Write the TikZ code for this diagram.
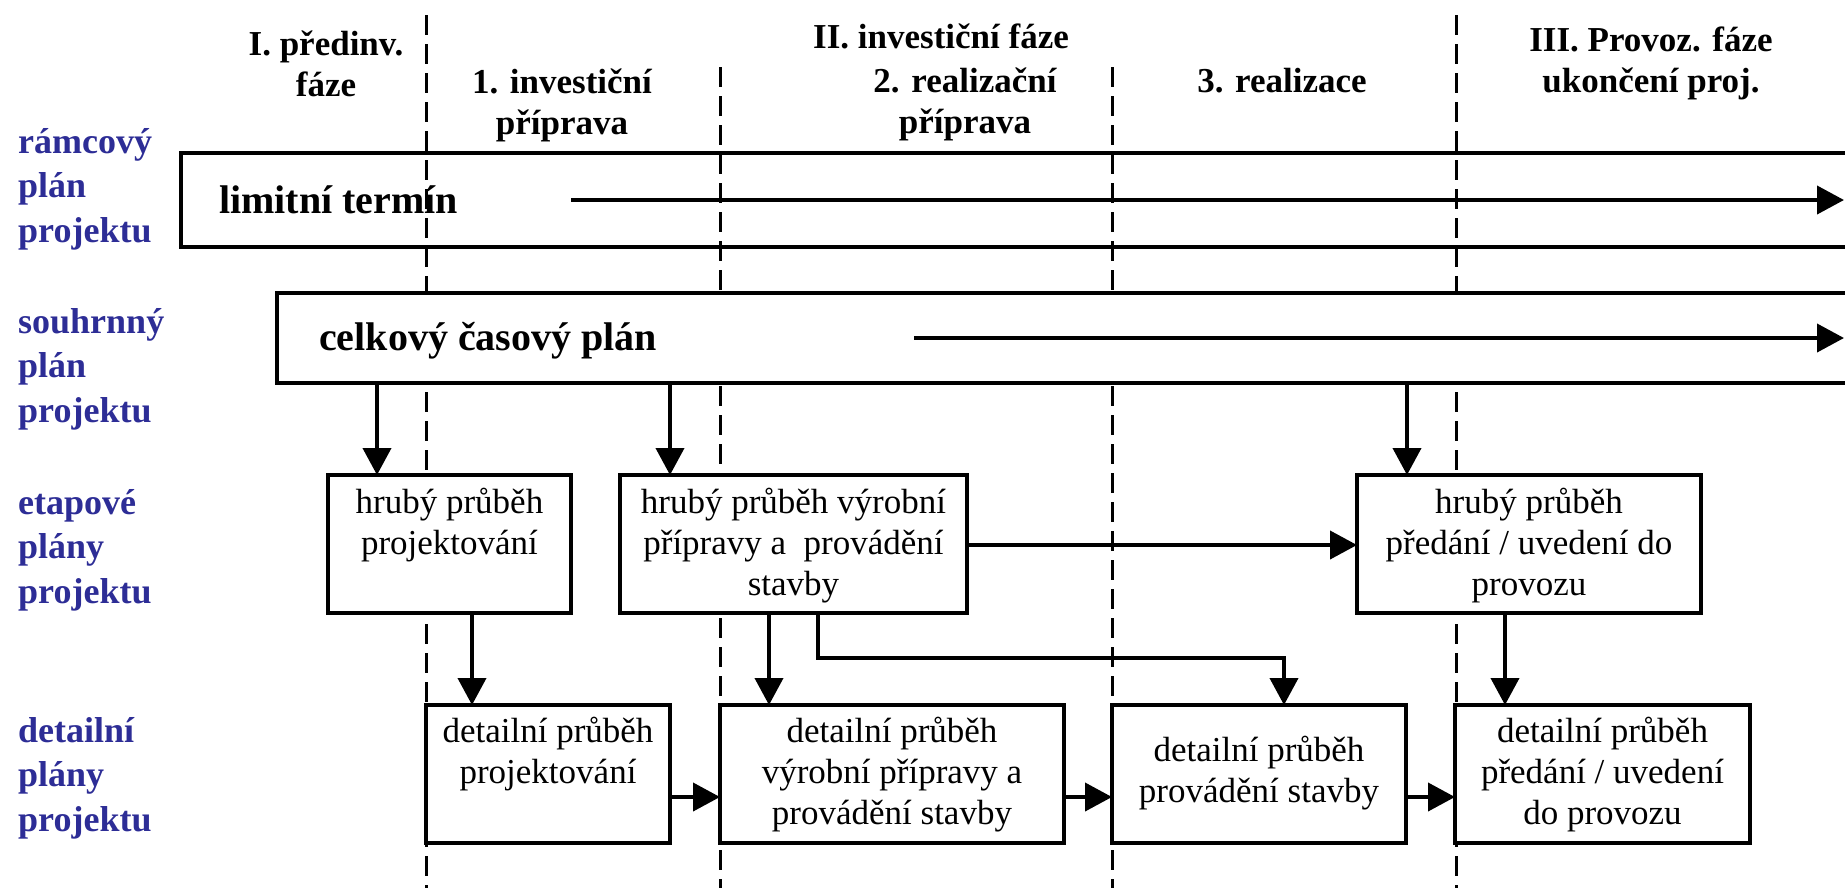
\documentclass[tikz,border=0pt]{standalone}
\usepackage{fontspec}
\setmainfont{Liberation Serif}
\usetikzlibrary{arrows.meta}
\definecolor{lblblue}{RGB}{45,45,150}
\newcommand\bxt[4]{\parbox[t][#2][t]{#1}{\centering\rule{0pt}{#3}#4}}
\newcommand\lbt[1]{\parbox[t]{220pt}{\raggedright #1}}
\newcommand\hdt[1]{\parbox[t]{300pt}{\centering #1}}
\begin{document}
\begin{tikzpicture}[x=1pt,y=-1pt,
  frame/.style={draw, line width=4pt, inner sep=0pt, outer sep=0pt, anchor=north west},
  wbox/.style={frame, fill=white, font=\fontsize{35}{41}\selectfont},
  arr/.style={line width=4pt, -{Triangle[length=27pt,width=28pt]}},
  phase/.style={draw, line width=3pt, dash pattern=on 20pt off 9pt},
  hdr/.style={anchor=base, inner sep=0pt, font=\bfseries\fontsize{35}{41}\selectfont},
  lbl/.style={anchor=base west, inner sep=0pt, text=lblblue, font=\bfseries\fontsize{36}{44.5}\selectfont},
  big/.style={anchor=base west, inner sep=0pt, font=\bfseries\fontsize{40}{48}\selectfont},
]
\useasboundingbox[fill=white] (0,0) rectangle (1845,887);

% phase separators
\draw[phase] (426,15) -- (426,892);
\draw[phase] (720,67) -- (720,892);
\draw[phase] (1112,67) -- (1112,892);
\draw[phase] (1456,15) -- (1456,892);

% headers
\node[hdr] (h1) at (326,55) {\hdt{I. předinv.\\fáze}};
\node[hdr] (h2) at (562,93) {\hdt{1. investiční\\příprava}};
\node[hdr] (h3) at (941,48) {\hdt{II. investiční fáze}};
\node[hdr] (h4) at (965,92) {\hdt{2. realizační\\příprava}};
\node[hdr] (h5) at (1282,92) {\hdt{3. realizace}};
\node[hdr] (h6) at (1651,51) {\hdt{III. Provoz. fáze\\ukončení proj.}};

% row labels
\node[lbl] (r1) at (18,153) {\lbt{rámcový\\plán\\projektu}};
\node[lbl] (r2) at (18,333) {\lbt{souhrnný\\plán\\projektu}};
\node[lbl] (r3) at (18,514) {\lbt{etapové\\plány\\projektu}};
\node[lbl] (r4) at (18,742) {\lbt{detailní\\plány\\projektu}};

% frame plan
\node[frame, minimum width=1666pt, minimum height=94pt] (limit) at (181,153) {};
\node[big] (lt) at (219,213) {limitní termín};
\coordinate (l0) at (571,200);
\coordinate (l1) at (1844,200);
\draw[arr] (l0) -- (l1);

% summary plan
\node[frame, fill=white, minimum width=1570pt, minimum height=90pt] (celk) at (277,293) {};
\node[big] (ct) at (319,350) {celkový časový plán};
\coordinate (c0) at (914,338);
\coordinate (c1) at (1844,338);
\draw[arr] (c0) -- (c1);

% stage plans
\node[wbox] (A) at (328,475) {\bxt{243pt}{138pt}{38pt}{hrubý průběh\\projektování}};
\node[wbox] (B) at (620,475) {\bxt{347pt}{138pt}{38pt}{hrubý průběh výrobní\\přípravy a\ \ provádění\\stavby}};
\node[wbox] (C) at (1357,475) {\bxt{344pt}{138pt}{38pt}{hrubý průběh\\předání / uvedení do\\provozu}};

% detail plans
\node[wbox] (D1) at (426,705) {\bxt{244pt}{138pt}{37pt}{detailní průběh\\projektování}};
\node[wbox] (D2) at (720,705) {\bxt{344pt}{138pt}{37pt}{detailní průběh\\výrobní přípravy a\\provádění stavby}};
\node[wbox] (D3) at (1112,705) {\bxt{294pt}{138pt}{56pt}{detailní průběh\\provádění stavby}};
\node[wbox] (D4) at (1455,705) {\bxt{295pt}{138pt}{37pt}{detailní průběh\\předání / uvedení\\do provozu}};

% connectors
\coordinate (xa) at (377,0);
\coordinate (xb) at (670,0);
\coordinate (xc) at (1407,0);
\draw[arr] (xa |- celk.south) -- (xa |- A.north);
\draw[arr] (xb |- celk.south) -- (xb |- B.north);
\draw[arr] (xc |- celk.south) -- (xc |- C.north);

\coordinate (yb) at (0,545);
\draw[arr] (B.east |- yb) -- (C.west |- yb);

\coordinate (xd1) at (472,0);
\coordinate (xd2) at (769,0);
\coordinate (xd4) at (1505,0);
\draw[arr] (xd1 |- A.south) -- (xd1 |- D1.north);
\draw[arr] (xd2 |- B.south) -- (xd2 |- D2.north);
\draw[arr] (xd4 |- C.south) -- (xd4 |- D4.north);

\coordinate (e1) at (818,658);
\coordinate (e2) at (1284,658);
\draw[arr] (e1 |- B.south) -- (e1) -- (e2) -- (e2 |- D3.north);

\coordinate (yd) at (0,797);
\draw[arr] (D1.east |- yd) -- (D2.west |- yd);
\draw[arr] (D2.east |- yd) -- (D3.west |- yd);
\draw[arr] (D3.east |- yd) -- (D4.west |- yd);
\end{tikzpicture}
\end{document}
